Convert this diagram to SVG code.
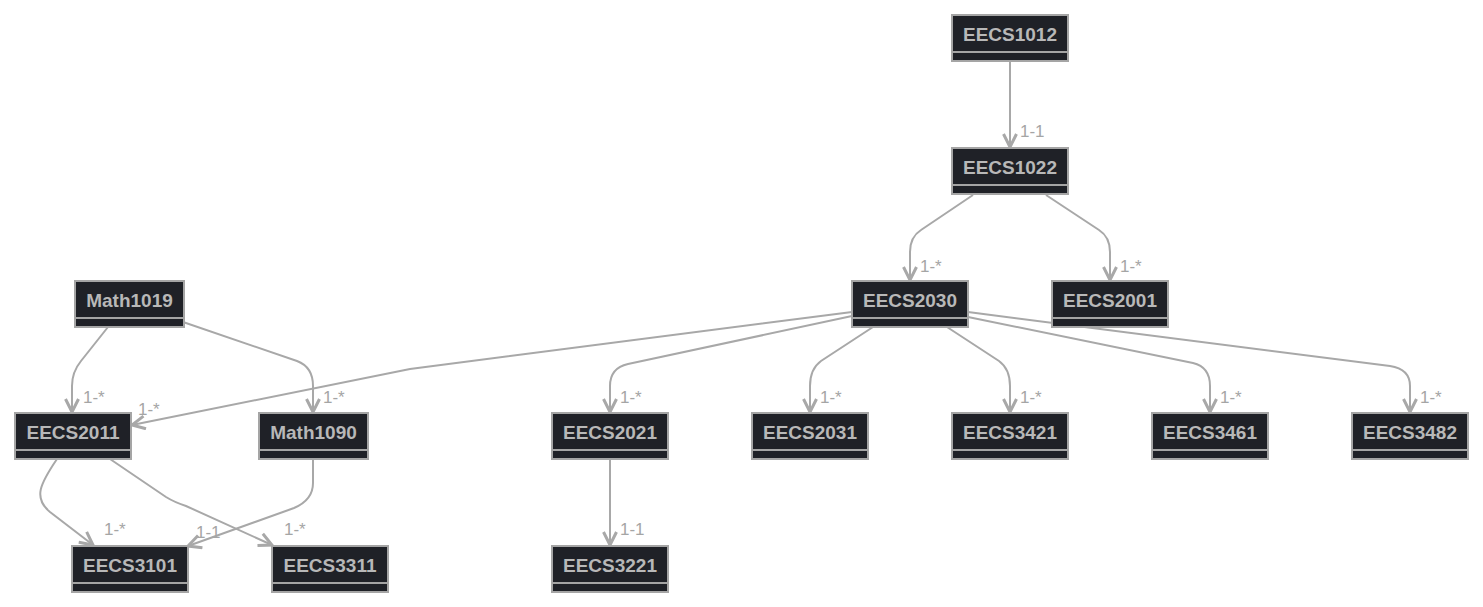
<svg xmlns="http://www.w3.org/2000/svg" width="1483" height="607" viewBox="0 0 1483 607">
<defs>
<style>
.box{fill:#1f2127;stroke:#a5a5a5;stroke-width:2}
.div{stroke:#a5a5a5;stroke-width:2}
.t{font-family:"Liberation Sans",Arial,sans-serif;font-weight:bold;font-size:19px;fill:#b8b8b8;text-anchor:middle}
.e{fill:none;stroke:#a8a8a8;stroke-width:2}
.l{font-family:"Liberation Sans",Arial,sans-serif;font-size:17px;fill:#a5a5a5}
</style>
<marker id="arr" viewBox="0 0 16 16" refX="14.5" refY="8" markerWidth="16" markerHeight="16" markerUnits="userSpaceOnUse" orient="auto">
<path d="M1.5,1.5 L14.5,8 L1.5,14.5" fill="none" stroke="#a8a8a8" stroke-width="3" stroke-linejoin="miter"/>
</marker>
</defs>
<rect width="1483" height="607" fill="#ffffff"/>
<g id="edges">
<path class="e" marker-end="url(#arr)" d="M1010,62 L1010,147"/>
<path class="e" marker-end="url(#arr)" d="M973,195 L921,230 Q910,237 910,252 L910,280"/>
<path class="e" marker-end="url(#arr)" d="M1046,195 L1099,230 Q1110,237 1110,252 L1110,280"/>
<path class="e" marker-end="url(#arr)" d="M108,327 L81,361 Q72,372 72,386 L72,412"/>
<path class="e" marker-end="url(#arr)" d="M183,322 L297,361 Q313,367 313,386 L313,412"/>
<path class="e" marker-end="url(#arr)" d="M852,312 L410,369 L132,425"/>
<path class="e" marker-end="url(#arr)" d="M852,316 L628,364 Q610,368 610,386 L610,412"/>
<path class="e" marker-end="url(#arr)" d="M873,327 L821,361 Q810,369 810,386 L810,412"/>
<path class="e" marker-end="url(#arr)" d="M947,327 L999,361 Q1010,369 1010,386 L1010,412"/>
<path class="e" marker-end="url(#arr)" d="M968,317 L1193,363 Q1210,367 1210,386 L1210,412"/>
<path class="e" marker-end="url(#arr)" d="M968,312 L1390,366 Q1410,369 1410,386 L1410,412"/>
<path class="e" marker-end="url(#arr)" d="M57,459 C40,484 33,498 50,512 L93,545"/>
<path class="e" marker-end="url(#arr)" d="M110,459 L166,497 Q174,502 186,506 L272,545"/>
<path class="e" marker-end="url(#arr)" d="M313,459 L313,483 Q313,500 294,508 L188,546"/>
<path class="e" marker-end="url(#arr)" d="M610,460 L610,545"/>
</g>
<g id="labels">
<text class="l" x="1020" y="137">1-1</text>
<text class="l" x="920" y="272">1-*</text>
<text class="l" x="1120" y="272">1-*</text>
<text class="l" x="83" y="403">1-*</text>
<text class="l" x="323" y="403">1-*</text>
<text class="l" x="138" y="415">1-*</text>
<text class="l" x="620" y="403">1-*</text>
<text class="l" x="820" y="403">1-*</text>
<text class="l" x="1020" y="403">1-*</text>
<text class="l" x="1220" y="403">1-*</text>
<text class="l" x="1420" y="403">1-*</text>
<text class="l" x="104" y="535">1-*</text>
<text class="l" x="196" y="538">1-1</text>
<text class="l" x="284" y="535">1-*</text>
<text class="l" x="620" y="535">1-1</text>
</g>
<g id="EECS1012"><rect class="box" x="952" y="15" width="116" height="46"/><line class="div" x1="952" y1="52" x2="1068" y2="52"/><text class="t" x="1010" y="41">EECS1012</text></g>
<g id="EECS1022"><rect class="box" x="952" y="148" width="116" height="46"/><line class="div" x1="952" y1="185" x2="1068" y2="185"/><text class="t" x="1010" y="174">EECS1022</text></g>
<g id="EECS2030"><rect class="box" x="852" y="281" width="116" height="46"/><line class="div" x1="852" y1="318" x2="968" y2="318"/><text class="t" x="910" y="307">EECS2030</text></g>
<g id="EECS2001"><rect class="box" x="1052" y="281" width="116" height="46"/><line class="div" x1="1052" y1="318" x2="1168" y2="318"/><text class="t" x="1110" y="307">EECS2001</text></g>
<g id="Math1019"><rect class="box" x="75" y="281" width="109" height="46"/><line class="div" x1="75" y1="318" x2="184" y2="318"/><text class="t" x="129.5" y="307">Math1019</text></g>
<g id="EECS2011"><rect class="box" x="15" y="413" width="116" height="46"/><line class="div" x1="15" y1="450" x2="131" y2="450"/><text class="t" x="73" y="439">EECS2011</text></g>
<g id="Math1090"><rect class="box" x="259" y="413" width="109" height="46"/><line class="div" x1="259" y1="450" x2="368" y2="450"/><text class="t" x="313.5" y="439">Math1090</text></g>
<g id="EECS2021"><rect class="box" x="552" y="413" width="116" height="46"/><line class="div" x1="552" y1="450" x2="668" y2="450"/><text class="t" x="610" y="439">EECS2021</text></g>
<g id="EECS2031"><rect class="box" x="752" y="413" width="116" height="46"/><line class="div" x1="752" y1="450" x2="868" y2="450"/><text class="t" x="810" y="439">EECS2031</text></g>
<g id="EECS3421"><rect class="box" x="952" y="413" width="116" height="46"/><line class="div" x1="952" y1="450" x2="1068" y2="450"/><text class="t" x="1010" y="439">EECS3421</text></g>
<g id="EECS3461"><rect class="box" x="1152" y="413" width="116" height="46"/><line class="div" x1="1152" y1="450" x2="1268" y2="450"/><text class="t" x="1210" y="439">EECS3461</text></g>
<g id="EECS3482"><rect class="box" x="1352" y="413" width="116" height="46"/><line class="div" x1="1352" y1="450" x2="1468" y2="450"/><text class="t" x="1410" y="439">EECS3482</text></g>
<g id="EECS3101"><rect class="box" x="72" y="546" width="116" height="46"/><line class="div" x1="72" y1="583" x2="188" y2="583"/><text class="t" x="130" y="572">EECS3101</text></g>
<g id="EECS3311"><rect class="box" x="272" y="546" width="116" height="46"/><line class="div" x1="272" y1="583" x2="388" y2="583"/><text class="t" x="330" y="572">EECS3311</text></g>
<g id="EECS3221"><rect class="box" x="552" y="546" width="116" height="46"/><line class="div" x1="552" y1="583" x2="668" y2="583"/><text class="t" x="610" y="572">EECS3221</text></g>
</svg>
